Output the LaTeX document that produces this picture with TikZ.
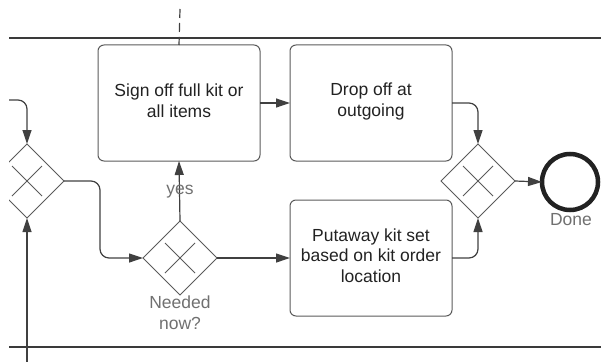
\documentclass[tikz,border=0pt]{standalone}
\usepackage{fontspec}
\setmainfont{Liberation Sans}
\usetikzlibrary{shapes.geometric,arrows.meta}

\definecolor{lane}{HTML}{3A3A3A}
\definecolor{edge}{HTML}{5A5A5A}
\definecolor{wire}{HTML}{404040}
\definecolor{ink}{HTML}{222222}
\definecolor{muted}{HTML}{707070}

\tikzset{
  task/.style={draw=edge, line width=1pt, rounded corners=6pt,
    minimum width=162pt, minimum height=116pt, inner sep=0pt, outer sep=0pt},
  tasktext/.style={align=center, text=ink, inner sep=0pt, anchor=base,
    font=\fontsize{17.5}{20.5}\selectfont},
  gate/.style={diamond, draw=edge, line width=1pt, aspect=1,
    minimum width=74pt, minimum height=74pt, inner sep=0pt, outer sep=0pt,
    path picture={
      \draw[edge, line width=1pt]
        ([xshift=-15pt,yshift=-15pt]path picture bounding box.center) --
        ([xshift=15pt,yshift=15pt]path picture bounding box.center)
        ([xshift=-15pt,yshift=15pt]path picture bounding box.center) --
        ([xshift=15pt,yshift=-15pt]path picture bounding box.center);}},
  finish/.style={circle, draw=ink, line width=4.5pt, minimum size=56pt,
    inner sep=0pt, outer sep=0pt},
  note/.style={text=muted, align=center, inner sep=0pt, anchor=base,
    font=\fontsize{17.5}{20.5}\selectfont},
  flow/.style={draw=wire, line width=1.2pt,
    -{Triangle[length=14pt,width=9pt]}},
  swim/.style={draw=lane, line width=1.5pt},
}

\begin{document}
\begin{tikzpicture}[x=1pt, y=-1pt]
  \useasboundingbox (0,0) rectangle (601,361);
  \begin{scope}
    \clip (9,-2) rectangle (603,363);

    % pool boundaries
    \coordinate (poolTL) at (9,38);
    \coordinate (poolTR) at (603,38);
    \coordinate (poolBL) at (9,347);
    \coordinate (poolBR) at (603,347);
    \draw[swim] (poolTL) -- (poolTR);
    \draw[swim] (poolBL) -- (poolBR);

    % tasks (the base anchor of a multi-line text sits on its last line)
    \node[task] (sign) at (179,103) {};
    \node[task] (drop) at (371,103) {};
    \node[task] (put)  at (371,258) {};
    \node[tasktext] (signTxt) at (179,117) {Sign off full kit or\\all items};
    \node[tasktext] (dropTxt) at (371,116) {Drop off at\\outgoing};
    \node[tasktext] (putTxt)  at (371,282) {Putaway kit set\\based on kit order\\location};

    % gateways
    \node[gate] (gL) at (27,181) {};
    \node[gate] (gM) at (180,258) {};
    \node[gate] (gR) at (478,181) {};

    % end event
    \node[finish] (done) at (570,182) {};
    \node[note] (doneLbl) at (571,225) {Done};
    \node[note] (needLbl) at (180,329) {Needed\\now?};

    % dashed link from above
    \coordinate (dashTop) at (180,9);
    \draw[wire, line width=1.2pt, dash pattern=on 9pt off 5pt] (dashTop) -- (sign.north);

    % incoming flows
    \coordinate (inTop) at (9,100);
    \coordinate (inBot) at (27,363);
    \draw[flow, rounded corners=9pt] (inTop) -| (gL.north);
    \draw[flow] (inBot) -- (gL.south);

    % sequence flows
    \draw[flow, rounded corners=9pt] (gL.east) -- ++(36,0) |- (gM.west);
    \draw[flow] (gM.north) -- (sign.south);
    \node[note] (yesLbl) at (180,194) {yes};
    \draw[flow] (gM.east) -- (put.west);
    \draw[flow] (sign.east) -- (drop.west);
    \draw[flow, rounded corners=9pt] (drop.east) -| (gR.north);
    \draw[flow, rounded corners=9pt] (put.east) -| (gR.south);
    \draw[flow] (gR.east) -- (done.west);
  \end{scope}
\end{tikzpicture}
\end{document}
